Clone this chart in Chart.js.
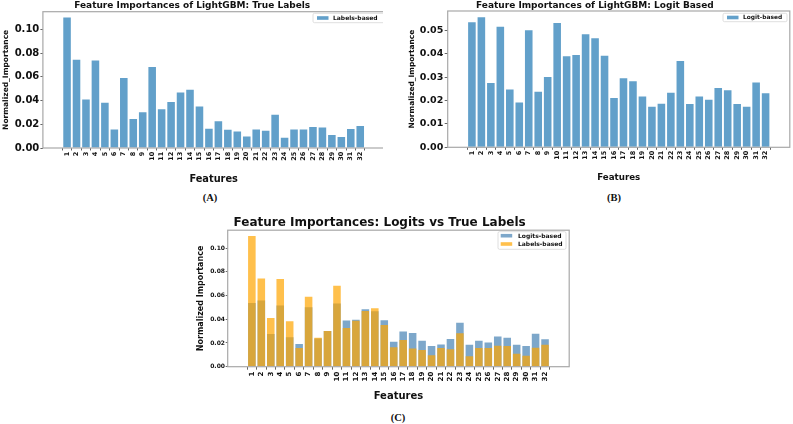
<!DOCTYPE html>
<html><head><meta charset="utf-8">
<script src="https://cdn.jsdelivr.net/npm/chart.js@4.4.0/dist/chart.umd.min.js"></script>
<style>
html,body{margin:0;padding:0;background:#fff;width:793px;height:424px;overflow:hidden;}
.box{position:absolute;overflow:hidden;}
canvas{position:absolute;left:0;top:0;}
.cap{position:absolute;font-family:"Liberation Serif","DejaVu Serif",serif;font-weight:bold;transform:translate(-50%,-50%);white-space:nowrap;color:#111;}
</style></head><body>
<div class="box" style="left:0;top:0;width:383px;height:185px;"><canvas id="cA" width="387" height="185"></canvas></div>
<div class="box" style="left:400px;top:0;width:393px;height:183px;"><canvas id="cB" width="393" height="183"></canvas></div>
<div class="box" style="left:190px;top:212px;width:382px;height:191px;"><canvas id="cC" width="382" height="191"></canvas></div>
<div class="cap" style="left:210px;top:197px;font-size:10.5px;">(A)</div>
<div class="cap" style="left:614px;top:196.5px;font-size:10.5px;">(B)</div>
<div class="cap" style="left:398px;top:416.5px;font-size:10.5px;">(C)</div>
<script>
// ---- data ----
const features = [1,2,3,4,5,6,7,8,9,10,11,12,13,14,15,16,17,18,19,20,21,22,23,24,25,26,27,28,29,30,31,32];
const labelsBased = [0.1101,0.0744,0.0410,0.0739,0.0382,0.0157,0.0590,0.0244,0.0301,0.0683,0.0326,0.0388,0.0469,0.0492,0.0351,0.0163,0.0225,0.0154,0.0140,0.0096,0.0157,0.0146,0.0281,0.0087,0.0157,0.0157,0.0177,0.0174,0.0110,0.0093,0.0160,0.0185];
const logitsBased = [0.0536,0.0557,0.0275,0.0516,0.0248,0.0192,0.0501,0.0238,0.0301,0.0533,0.0390,0.0395,0.0484,0.0467,0.0392,0.0211,0.0296,0.0283,0.0218,0.0174,0.0187,0.0234,0.0370,0.0185,0.0218,0.0204,0.0254,0.0244,0.0185,0.0174,0.0278,0.0232];
const titleA = 'Feature Importances of LightGBM: True Labels';
const titleB = 'Feature Importances of LightGBM: Logit Based';
const titleC = 'Feature Importances: Logits vs True Labels';

const FONT = '"DejaVu Sans", sans-serif';
const frameColor = '#a8a8a8';

const framePlugin = {
  id: 'frame',
  afterDatasetsDraw(chart) {
    const {ctx, chartArea: a} = chart;
    ctx.save();
    ctx.strokeStyle = frameColor;
    ctx.lineWidth = 1.2;
    ctx.strokeRect(a.left, a.top, a.right - a.left, a.bottom - a.top);
    ctx.restore();
  }
};

const boxLegend = {
  id: 'boxLegend',
  afterDraw(chart, args, o) {
    if (!o || !o.order) return;
    const ctx = chart.ctx;
    ctx.save();
    const [bx, by, bw, bh] = o.box;
    ctx.fillStyle = 'rgba(255,255,255,0.85)';
    ctx.strokeStyle = '#d6d6d6';
    ctx.lineWidth = 0.8;
    ctx.beginPath();
    if (ctx.roundRect) ctx.roundRect(bx, by, bw, bh, 1.5); else ctx.rect(bx, by, bw, bh);
    ctx.fill(); ctx.stroke();
    ctx.font = 'bold ' + o.fontSize + 'px ' + FONT;
    ctx.textBaseline = 'middle';
    ctx.textAlign = 'left';
    o.order.forEach((di, k) => {
      const ds = chart.data.datasets[di];
      const cy = o.rows[k];
      ctx.fillStyle = ds.backgroundColor;
      ctx.fillRect(o.patchX, cy - 1.8, 11.5, 3.6);
      ctx.fillStyle = '#111';
      ctx.fillText(ds.label, o.textX, cy + 0.3);
    });
    ctx.restore();
  }
};

function makeChart(id, cfg) {
  const xTicks = (s) => { s.ticks = features.map(v => ({value: v})); };
  return new Chart(document.getElementById(id), {
    type: 'bar',
    data: {labels: features, datasets: cfg.datasets},
    plugins: [framePlugin, boxLegend],
    options: {
      responsive: false,
      animation: false,
      devicePixelRatio: 1,
      grouped: false,
      categoryPercentage: 1,
      barPercentage: 0.8,
      layout: {padding: cfg.pad},
      plugins: {
        legend: {display: false},
        tooltip: {enabled: false},
        title: {display: true, text: cfg.title, color: '#111',
                font: {family: FONT, size: cfg.titleSize, weight: 'bold'},
                padding: cfg.titlePad},
        boxLegend: cfg.legend
      },
      scales: {
        x: {
          type: 'linear',
          min: features[0] - 1.99,
          max: features[features.length - 1] + 1.99,
          afterBuildTicks: xTicks,
          afterFit: (s) => { s.height = cfg.xH; },
          grid: {display: true, drawOnChartArea: false, drawTicks: true, tickLength: cfg.xTickLen, color: '#666'},
          border: {display: false},
          ticks: {autoSkip: false, minRotation: 90, maxRotation: 90, padding: cfg.xTickPad, color: '#111',
                  font: {family: FONT, size: cfg.xTickSize, weight: 'bold'},
                  callback: (v) => String(v)},
          title: {display: true, text: 'Features', color: '#111',
                  font: {family: FONT, size: cfg.xTitleSize, weight: 'bold'}, padding: {top: 0, bottom: 0}}
        },
        y: {
          min: 0, max: cfg.yMax,
          afterFit: (s) => { s.width = cfg.yW; },
          grid: {display: true, drawOnChartArea: false, drawTicks: true, tickLength: cfg.yTickLen, color: '#666'},
          border: {display: false},
          ticks: {stepSize: cfg.yStep, includeBounds: false, padding: cfg.yTickPad, color: '#111',
                  font: {family: FONT, size: cfg.yTickSize, weight: 'bold'},
                  callback: (v) => v.toFixed(2)},
          title: {display: true, text: cfg.yTitle, color: '#111',
                  font: {family: FONT, size: cfg.yTitleSize, weight: cfg.yTitleWeight}, padding: {top: cfg.yTitlePad, bottom: 0}}
        }
      }
    }
  });
}

const blueA = 'rgba(31,119,180,0.7)';
const blueC = 'rgba(70,130,180,0.7)';
const orangeC = 'rgba(255,165,0,0.7)';

makeChart('cA', {
  datasets: [{label: 'Labels-based', data: labelsBased, backgroundColor: blueA}],
  pad: {left: 0, right: 2.6, top: 0, bottom: 0.1},
  title: titleA, titleSize: 9, titlePad: {top: 0.3, bottom: 0.6},
  xH: 36.9, xTickLen: 2.5, xTickPad: 1.2, xTickSize: 6.5, xTitleSize: 9.8,
  yW: 42.9, yTickLen: 2.5, yTickPad: 1.1, yTickSize: 10, yStep: 0.02, yMax: 0.115,
  yTitle: 'Normalized_Importance', yTitleSize: 7.5, yTitleWeight: 'bold', yTitlePad: 2.0,
  legend: {box: [313, 13.3, 72, 9.4], order: [0], rows: [18], patchX: 317, textX: 333, fontSize: 6}
});

makeChart('cB', {
  datasets: [{label: 'Logit-based', data: logitsBased, backgroundColor: blueA}],
  pad: {left: 0, right: 3.2, top: 0, bottom: 0.1},
  title: titleB, titleSize: 9, titlePad: {top: 0.2, bottom: 0},
  xH: 35.6, xTickLen: 2.5, xTickPad: 0.9, xTickSize: 6.5, xTitleSize: 8.7,
  yW: 47.7, yTickLen: 3, yTickPad: 1.4, yTickSize: 9.5, yStep: 0.01, yMax: 0.0584,
  yTitle: 'Normalized_Importance', yTitleSize: 7.4, yTitleWeight: 'bold', yTitlePad: 8.0,
  legend: {box: [323, 13.3, 64, 8.4], order: [0], rows: [17.5], patchX: 327, textX: 343, fontSize: 5.9}
});

makeChart('cC', {
  datasets: [
    {label: 'Labels-based', data: labelsBased, backgroundColor: orangeC, order: 0},
    {label: 'Logits-based', data: logitsBased, backgroundColor: blueC, order: 1}
  ],
  pad: {left: 0, right: 2.8, top: 0, bottom: 0.3},
  title: titleC, titleSize: 12, titlePad: {top: 3.8, bottom: 0},
  xH: 36, xTickLen: 3, xTickPad: 2, xTickSize: 7, xTitleSize: 10,
  yW: 37.7, yTickLen: 2, yTickPad: 0.7, yTickSize: 6, yStep: 0.02, yMax: 0.115,
  yTitle: 'Normalized Importance', yTitleSize: 8, yTitleWeight: 'bold', yTitlePad: 6.2,
  legend: {box: [308, 19.7, 68, 17.6], order: [1, 0], rows: [23.7, 32], patchX: 310.7, textX: 328, fontSize: 6}
});
</script>
</body></html>
